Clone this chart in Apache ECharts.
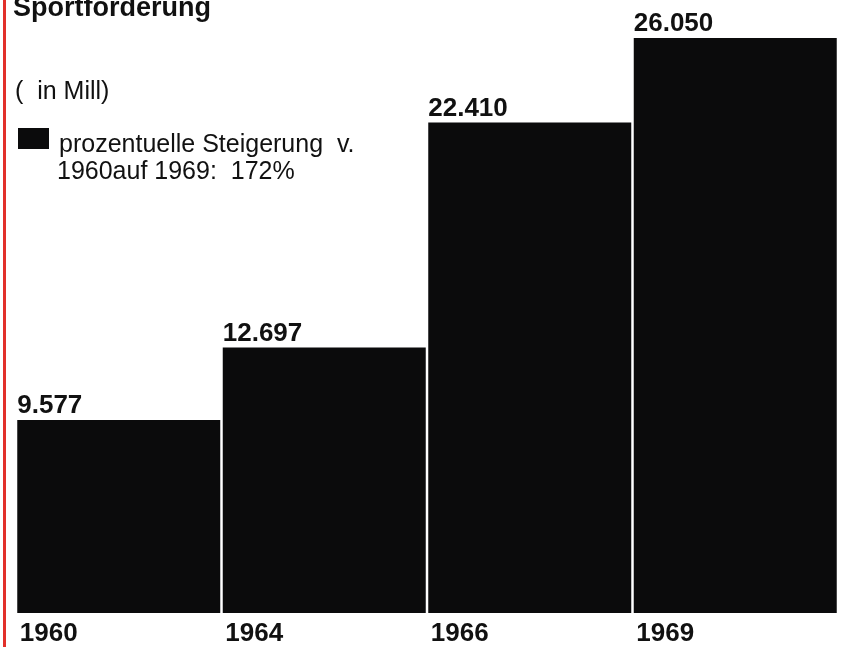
<!DOCTYPE html>
<html>
<head>
<meta charset="utf-8">
<script src="https://cdn.jsdelivr.net/npm/echarts@6/dist/echarts.min.js"></script>
<style>html,body{margin:0;padding:0;background:#fff;}#c{width:846px;height:647px;}</style>
</head>
<body>
<div id="c"></div>
<script>
var categories = ['1960', '1964', '1966', '1969'];
var values = [9.577, 12.697, 22.410, 26.050];
var valueLabels = ['9.577', '12.697', '22.410', '26.050'];
var seriesName = 'prozentuelle Steigerung  v.';
var legendLine2 = '1960auf 1969:  172%';
var titleText = 'Sportförderung';
var unitText = '(  in Mill)';

var chart = echarts.init(document.getElementById('c'));
var sans = '"Liberation Sans", Arial, Helvetica, sans-serif';
chart.setOption({
  backgroundColor: '#ffffff',
  animation: false,
  title: [
    {text: titleText, left: 13, top: -5, padding: 0,
     textStyle: {fontFamily: sans, fontWeight: 'bold', fontSize: 27, color: '#111'}},
    {text: unitText, left: 15, top: 80, padding: 0,
     textStyle: {fontFamily: sans, fontWeight: 'normal', fontSize: 25, color: '#111'}},
    {text: legendLine2, left: 57, top: 160, padding: 0,
     textStyle: {fontFamily: sans, fontWeight: 'normal', fontSize: 25, color: '#111'}}
  ],
  legend: {
    left: 18, top: 126, padding: 0,
    icon: 'rect', itemWidth: 31, itemHeight: 21, itemGap: 9,
    formatter: function (n) { return '{s|}{a|' + n + '}'; },
    textStyle: {
      fontFamily: sans, fontSize: 25, color: '#111', padding: [0, 0, 0, 5],
      rich: {
        s: {width: 0, height: 38},
        a: {fontFamily: sans, fontSize: 25, color: '#111', verticalAlign: 'bottom'}
      }
    },
    data: [seriesName]
  },
  grid: {left: 16, right: 8, top: 38, bottom: 34, containLabel: false},
  xAxis: {
    type: 'category', data: categories,
    axisLine: {show: false}, axisTick: {show: false},
    axisLabel: {
      margin: 8,
      formatter: function (v) { return '{y|' + v + '}'; },
      rich: {y: {width: 198, align: 'left', fontFamily: sans, fontWeight: 'bold', fontSize: 26, color: '#111'}}
    }
  },
  yAxis: {type: 'value', min: 1.25, max: 26.05, show: false, splitLine: {show: false}},
  graphic: [
    {type: 'rect', left: 3, top: 0, shape: {width: 3, height: 647}, style: {fill: '#e2302a'}}
  ],
  series: [{
    name: seriesName, type: 'bar', data: values, barWidth: 203,
    itemStyle: {color: '#0b0b0c'},
    label: {
      show: true, position: [0, -27], align: 'left', verticalAlign: 'top',
      formatter: function (p) { return valueLabels[p.dataIndex]; },
      fontFamily: sans, fontWeight: 'bold', fontSize: 26, color: '#111'
    }
  }]
});
</script>
</body>
</html>
